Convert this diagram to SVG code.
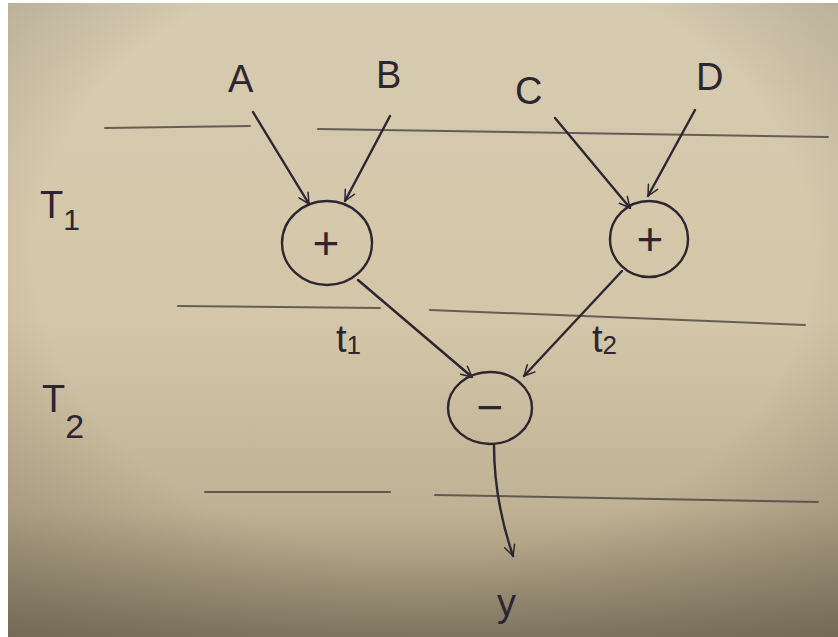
<svg xmlns="http://www.w3.org/2000/svg" width="838" height="637" viewBox="0 0 838 637">
  <defs>
    <linearGradient id="paper" x1="0" y1="0" x2="0" y2="1">
      <stop offset="0" stop-color="#d6cbb1"/>
      <stop offset="0.5" stop-color="#d4c6a8"/>
      <stop offset="0.8" stop-color="#bfb193"/>
      <stop offset="1" stop-color="#8c8169"/>
    </linearGradient>
    <radialGradient id="vignette" cx="0.5" cy="0.4" r="0.78">
      <stop offset="0.6" stop-color="#000" stop-opacity="0"/>
      <stop offset="1" stop-color="#2a2418" stop-opacity="0.25"/>
    </radialGradient>
    <marker id="head" viewBox="0 0 20 20" refX="16" refY="10" markerWidth="15" markerHeight="15" markerUnits="userSpaceOnUse" orient="auto">
      <path d="M2 3 L16 10 L2 17" fill="none" stroke="#2b2630" stroke-width="2" stroke-linecap="round" stroke-linejoin="round"/>
    </marker>
    <style>
      .ink { fill: none; stroke: #2b2630; stroke-width: 2.4; stroke-linecap: round; stroke-linejoin: round; }
      .rule { fill: none; stroke: #4a4440; stroke-width: 2; stroke-linecap: round; opacity: 0.8; }
      .arrow { fill: none; stroke: #2b2630; stroke-width: 2.4; stroke-linecap: round; marker-end: url(#head); }
      .label { font-family: "Liberation Sans", "DejaVu Sans", sans-serif; fill: #2b2630; font-size: 38px; }
      .op { font-family: "Liberation Sans", "DejaVu Sans", sans-serif; fill: #2b2630; font-size: 46px; text-anchor: middle; }
    </style>
  </defs>

  <!-- photo backdrop with white margin on left and top -->
  <rect x="0" y="0" width="838" height="637" fill="#ffffff"/>
  <rect x="8" y="3" width="830" height="634" fill="url(#paper)"/>
  <rect x="8" y="3" width="830" height="634" fill="url(#vignette)"/>

  <!-- time-step rules -->
  <g id="rules">
    <path class="rule" d="M105 128 L250 126"/>
    <path class="rule" d="M318 129 Q570 132 828 137"/>
    <path class="rule" d="M178 306 L380 308"/>
    <path class="rule" d="M430 310 Q620 318 805 325"/>
    <path class="rule" d="M205 492 L390 492"/>
    <path class="rule" d="M435 495 Q630 499 818 502"/>
  </g>

  <!-- step labels -->
  <g id="step-labels">
    <text class="label" x="40" y="218">T<tspan font-size="30" dy="12">1</tspan></text>
    <text class="label" x="42" y="412">T<tspan font-size="34" dy="26">2</tspan></text>
  </g>

  <!-- inputs -->
  <g id="input-A"><text class="label" x="228" y="92">A</text></g>
  <g id="input-B"><text class="label" x="376" y="88">B</text></g>
  <g id="input-C"><text class="label" x="515" y="104">C</text></g>
  <g id="input-D"><text class="label" x="696" y="90">D</text></g>

  <!-- operation nodes -->
  <g id="add-1">
    <ellipse class="ink" cx="327" cy="243" rx="45" ry="42"/>
    <text class="op" x="326" y="259">+</text>
  </g>
  <g id="add-2">
    <ellipse class="ink" cx="649" cy="239" rx="39" ry="38"/>
    <text class="op" x="650" y="255">+</text>
  </g>
  <g id="subtract">
    <ellipse class="ink" cx="490" cy="408" rx="42" ry="36"/>
    <text class="op" x="490" y="423">−</text>
  </g>

  <!-- output -->
  <g id="output-y"><text class="label" x="497" y="616">y</text></g>

  <!-- connectors -->
  <g id="connectors">
    <path class="arrow" d="M253 112 L309 204"/>
    <path class="arrow" d="M390 116 L345 201"/>
    <path class="arrow" d="M555 118 L630 208"/>
    <path class="arrow" d="M695 110 L648 196"/>
    <path class="arrow" d="M358 280 L472 377"/>
    <path class="arrow" d="M622 271 L524 376"/>
    <path class="arrow" d="M494 445 Q494 500 513 556"/>
  </g>

  <!-- edge labels -->
  <g id="edge-labels">
    <text class="label" x="336" y="352" font-size="32">t<tspan font-size="26" dy="2">1</tspan></text>
    <text class="label" x="592" y="352" font-size="32">t<tspan font-size="26" dy="2">2</tspan></text>
  </g>
</svg>
